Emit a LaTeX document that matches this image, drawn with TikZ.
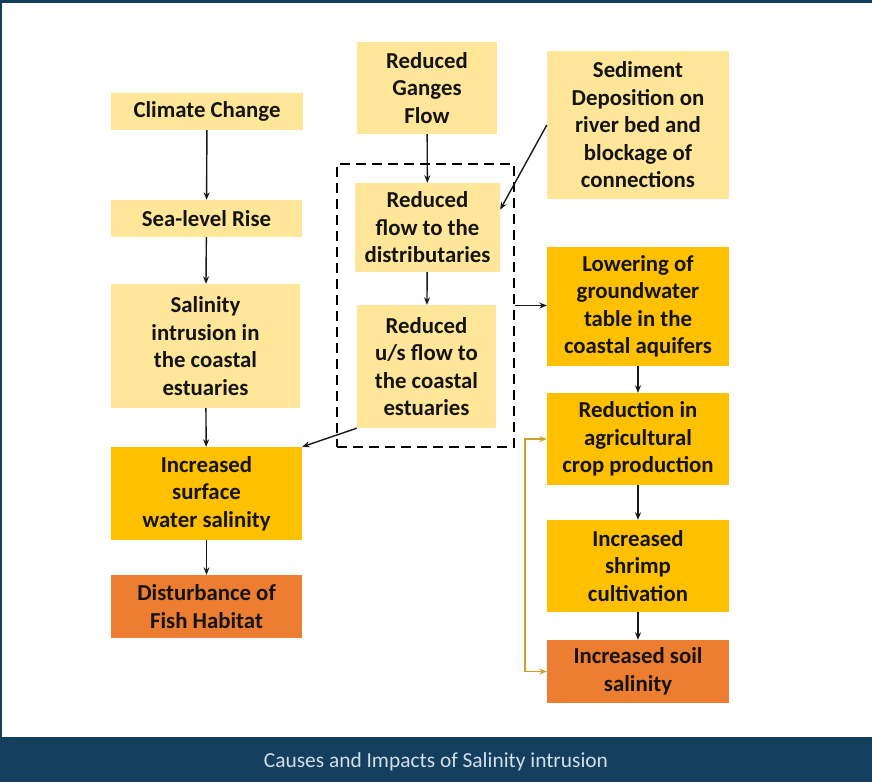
\documentclass[tikz,border=0pt]{standalone}
\usepackage{fontspec}
\setmainfont{Carlito}
\usetikzlibrary{arrows.meta,calc}
\definecolor{navy}{HTML}{143F5F}
\definecolor{capt}{HTML}{D3DEE8}
\definecolor{lightY}{HTML}{FFE699}
\definecolor{goldY}{HTML}{FFC000}
\definecolor{orangeB}{HTML}{ED7D31}
\definecolor{goldline}{HTML}{C9A227}
\tikzset{
  box/.style={inner sep=0pt, align=center, font=\fontsize{22.8}{27.5}\selectfont\bfseries, text=black!92},
  lbox/.style={box, fill=lightY},
  gbox/.style={box, fill=goldY},
  obox/.style={box, fill=orangeB},
  arr/.style={draw=black!90, line width=1.4pt, -{Stealth[length=7.5pt,width=6pt]}},
  garr/.style={draw=goldline, line width=1.8pt, {Stealth[length=7.5pt,width=6pt]}-{Stealth[length=7.5pt,width=6pt]}},
  grpbox/.style={draw=black, line width=2.5pt, dash pattern=on 10pt off 6pt, inner sep=0pt}
}
\begin{document}
\begin{tikzpicture}[x=1pt,y=-1pt]
\useasboundingbox (0,0) rectangle (872,782);
\fill[white] (0,0) rectangle (872,782);
\fill[navy] (0,0) rectangle (872,2.5);
\fill[navy] (0,0) rectangle (2,737);
\fill[navy] (0,737) rectangle (872,782);
\node[font=\fontsize{21.4}{24}\selectfont, text=capt] (cap) at (436,762) {Causes and Impacts of Salinity intrusion};

% left column
\node[lbox, minimum width=192pt, minimum height=37pt] (cc) at (207,111.5) {Climate Change};
\node[lbox, minimum width=191pt, minimum height=37pt] (slr) at (206.5,218.5) {Sea-level Rise};
\node[lbox, minimum width=189pt, minimum height=124pt] (si) at (205.5,346) {Salinity\\intrusion in\\the coastal\\estuaries};
\node[gbox, minimum width=191pt, minimum height=93pt] (isw) at (206.5,493.5) {Increased\\surface\\water salinity};
\node[obox, minimum width=191pt, minimum height=63pt] (dfh) at (206.5,606.5) {Disturbance of\\Fish Habitat};

% middle column
\node[lbox, minimum width=140pt, minimum height=92pt] (rgf) at (427,88) {Reduced\\Ganges\\Flow};
\node[lbox, minimum width=145pt, minimum height=89pt] (rfd) at (427.5,227.5) {Reduced\\flow to the\\distributaries};
\node[lbox, minimum width=139pt, minimum height=123pt] (rus) at (426.5,366.5) {Reduced\\u/s flow to\\the coastal\\estuaries};
\node[grpbox, minimum width=177pt, minimum height=283pt] (grp) at (425.5,305.5) {};

% right column
\node[lbox, minimum width=182pt, minimum height=148pt] (sed) at (638,125) {Sediment\\Deposition on\\river bed and\\blockage of\\connections};
\node[gbox, minimum width=182pt, minimum height=119pt] (lgw) at (638,306.5) {Lowering of\\groundwater\\table in the\\coastal aquifers};
\node[gbox, minimum width=182pt, minimum height=92pt] (rac) at (638,439) {Reduction in\\agricultural\\crop production};
\node[gbox, minimum width=182pt, minimum height=92pt] (isc) at (638,566) {Increased\\shrimp\\cultivation};
\node[obox, minimum width=182pt, minimum height=63pt] (iss) at (638,671.5) {Increased soil\\salinity};

% connectors
\draw[arr] (cc) -- (slr);
\draw[arr] (slr) -- (si);
\draw[arr] (si) -- (isw);
\draw[arr] (isw) -- (dfh);
\draw[arr] (rgf) -- (rfd);
\draw[arr] (rfd) -- (rus);
\draw[arr] (sed.west) -- ($(rfd.north east)!0.3!(rfd.south east)$);
\draw[arr] (grp.east) -- (grp.east -| lgw.west);
\draw[arr] (rus.south west) -- (isw.north east);
\draw[arr] (lgw) -- (rac);
\draw[arr] (rac) -- (isc);
\draw[arr] (isc) -- (iss);
\draw[garr] (rac.west) -- ++(-22,0) |- (iss.west);
\end{tikzpicture}
\end{document}
